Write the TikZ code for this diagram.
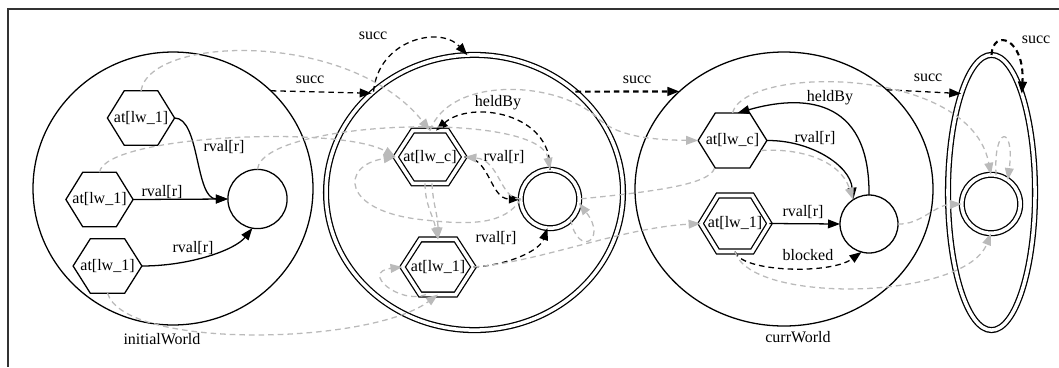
\documentclass[tikz,border=0pt]{standalone}
\usepackage{fontspec}
\setmainfont{Liberation Serif}
\usetikzlibrary{shapes.geometric,arrows.meta,calc}

\begin{document}
\begin{tikzpicture}[x=0.625pt, y=-0.625pt,
  every node/.style={inner sep=0pt, outer sep=0pt, font=\fontsize{10}{12}\selectfont},
  world/.style={draw, ellipse, line width=0.8pt},
  twice/.style={double, double distance=2.2pt, line width=0.8pt},
  dot/.style={draw, circle, line width=0.8pt, minimum size=#1},
  hexa/.style={minimum width=42pt, minimum height=34pt,
    append after command={\pgfextra{\draw[line width=0.8pt, #1] (\tikzlastnode.west)
      -- ($(\tikzlastnode.north west)!.25!(\tikzlastnode.north east)$)
      -- ($(\tikzlastnode.north west)!.75!(\tikzlastnode.north east)$)
      -- (\tikzlastnode.east)
      -- ($(\tikzlastnode.south west)!.75!(\tikzlastnode.south east)$)
      -- ($(\tikzlastnode.south west)!.25!(\tikzlastnode.south east)$)
      -- cycle;}}},
  lbl/.style={inner sep=1pt},
  link/.style={line width=0.8pt, -{Triangle[length=7.5pt,width=5.5pt]}},
  dsh/.style={dash pattern=on 3.5pt off 2.5pt},
  lift/.style={link, dsh, black!27}]
\useasboundingbox (0,0) rectangle (1059,367);
\draw[line width=1pt, black!80] (1059,9) -- (8,9) -- (8,367);

\node[world, minimum width=175pt, minimum height=170.6pt, label={[label distance=5.5pt, xshift=-6.9pt]below:initialWorld}] (W1) at (173,188.5) {};
\node[world, twice, minimum width=185.6pt, minimum height=172pt] (W2) at (474.5,192.5) {};
\node[world, minimum width=186.25pt, minimum height=171.25pt, label={[label distance=3.5pt, xshift=8.75pt]below:currWorld}] (W3) at (784,189) {};
\node[world, twice, minimum width=54.4pt, minimum height=172pt] (W4) at (991.5,192.5) {};

\node[hexa] (W1N0) at (141,118) {at[lw\_1]};
\node[hexa] (W1N1) at (99.5,199.5) {at[lw\_1]};
\node[hexa, minimum width=43pt] (W1N2) at (107.5,266) {at[lw\_1]};
\node[dot=37pt] (W1N3) at (257.5,199) {};
\node[hexa={twice}, minimum width=43pt, minimum height=33pt] (W2N0) at (430,157) {at[lw\_c]};
\node[hexa={twice}, minimum width=44.4pt, minimum height=34.4pt] (W2N1) at (438,267) {at[lw\_1]};
\node[dot=36.5pt, twice] (W2N2) at (550,199) {};
\node[hexa, minimum width=43pt, minimum height=34.4pt] (W3N0) at (732.5,140.5) {at[lw\_c]};
\node[hexa={twice}, minimum width=43pt, minimum height=35pt] (W3N1) at (735,223.5) {at[lw\_1]};
\node[dot=36.25pt] (W3N2) at (869,224) {};
\node[dot=36.5pt, twice] (W4N0) at (991,204) {};

\draw[link] (W1N0.east) .. controls (200,118) and (195,199) .. (W1N3.west) node[lbl] at (224,147) {rval[r]};
\draw[link] (W1N1.east) -- (W1N3.west) node[lbl] at (162,192) {rval[r]};
\draw[link] (W1N2.east) .. controls (190,266) and (235,250) .. (W1N3.-100) node[lbl] at (193,248) {rval[r]};
\draw[link, dsh] (W1.45) -- (W2.136) node[lbl] at (310,80) {succ};
\draw[link, dsh] (W2.135) .. controls (378,40) and (440,25) .. (W2.93) node[lbl] at (373,36) {succ};
\draw[link, dsh, line width=1.3pt] (W2.45) -- (W3.137) node[lbl] at (637,80) {succ};
\draw[link, dsh] (W3.44) -- (W4.107) node[lbl] at (928,78) {succ};
\draw[link, dsh, line width=1.3pt] (W4.north) .. controls (993,28) and (1025,38) .. (W4.73) node[lbl] at (1036,40) {succ};
\draw[link, dsh] (W2N2.north) .. controls (552,112) and (470,100) .. ($(W2N0.north)+(6,0)$) node[lbl] at (498,103) {heldBy};
\draw[link, dsh] (W2N0.east) .. controls (490,157) and (490,199) .. (W2N2.west) node[lbl] at (504,157) {rval[r]};
\draw[link, dsh] (W2N1.east) .. controls (510,265) and (540,250) .. (W2N2.-95) node[lbl] at (496,238) {rval[r]};
\draw[link] (W3N2.north) .. controls (870,95) and (800,95) .. ($(W3N0.north)+(5,0)$) node[lbl] at (830,98) {heldBy};
\draw[link] (W3N0.east) .. controls (810,140) and (850,165) .. (W3N2.123) node[lbl] at (815,138) {rval[r]};
\draw[link] (W3N1.east) -- (W3N2.west) node[lbl] at (803,212) {rval[r]};
\draw[link, dsh] (W3N1.south) .. controls (740,272) and (830,275) .. (W3N2.-105) node[lbl] at (808,255) {blocked};

\draw[lift] (W1N0.north) .. controls (150,35) and (350,30) .. (W2N0.north);
\draw[lift] (W1N1.north) .. controls (105,135) and (340,125) .. (W2N0.west);
\draw[lift] (W1N3.north) .. controls (262,120) and (540,110) .. (W2N2.north);
\draw[lift] (W1N2.south) .. controls (125,350) and (370,345) .. (W2N1.south);
\draw[lift] (W2N2.west) .. controls (500,200) and (500,160) .. (W2N0.east);
\draw[lift] (W2N2.west) .. controls (505,225) and (470,225) .. (425,220) .. controls (340,212) and (340,165) .. (W2N0.west);
\draw[lift] ($(W2N0.south)+(-5,0)$) .. controls (425,205) and (433,215) .. (W2N1.north);
\draw[lift] ($(W2N0.south)+(2,0)$) .. controls (433,205) and (438,215) .. (W2N1.north);
\draw[lift] ($(W2N1.south)+(-12,0)$) .. controls (400,305) and (360,272) .. (W2N1.west);
\draw[lift] (W2N2.-45) .. controls (578,258) and (608,240) .. (W2N2.-8);
\draw[dsh, black!27, line width=0.8pt] ($(W3N0.south)+(-18,0)$) .. controls (710,185) and (650,192) .. (W2N2.east);
\draw[lift] (W2N0.north) .. controls (450,75) and (560,80) .. (600,120) .. controls (620,138) and (660,140) .. (W3N0.west);
\draw[lift] (W2N1.east) .. controls (540,262) and (620,228) .. (W3N1.west);
\draw[lift] ($(W3N0.east)+(-6,10)$) .. controls (800,148) and (840,160) .. (W3N2.123);
\draw[lift] (W3N0.north) .. controls (745,65) and (970,65) .. (W4N0.north);
\draw[lift] (W3N2.east) .. controls (920,225) and (935,205) .. (W4N0.west);
\draw[lift] (W3N1.south) .. controls (750,305) and (965,300) .. (W4N0.south);
\draw[lift] (W4N0.80) .. controls (993,125) and (1015,125) .. (W4N0.55);
\end{tikzpicture}
\end{document}
